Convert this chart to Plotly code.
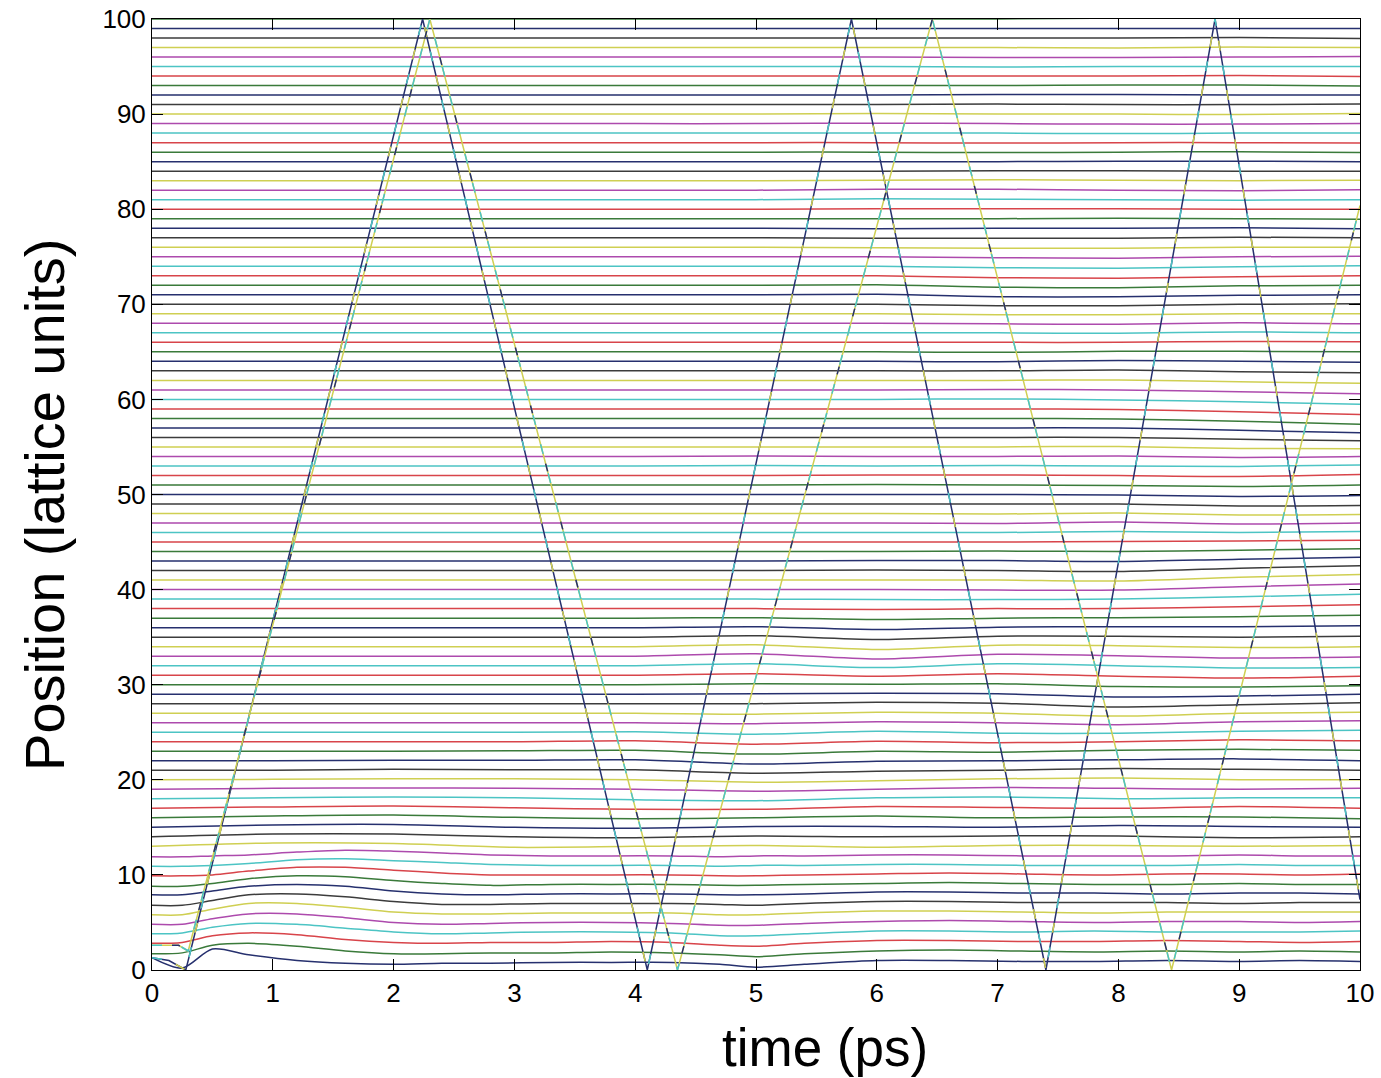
import plotly.graph_objects as go

# ---------------- data ----------------
# MATLAB-like colour order (as it appears in the picture)
line_colors = ["#26306e", "#3a7a3a", "#d8444a", "#4cc4c4", "#ad4aad", "#cfcf52", "#3c3c3c"]

# bottom atoms (1..12): absolute positions at fine knots
t_fine = [0, 0.25, 0.5, 0.8, 1.2, 1.6, 2.0, 2.4, 2.8, 3.3, 3.8, 4.3, 4.7, 5.0, 5.4, 6.0, 6.6, 7.2, 7.8, 8.4, 9.0, 9.5, 10]
pos_bottom = [
    [1.3, 0.2, 2.2, 1.6, 1.0, 0.7, 0.6, 0.7, 0.7, 0.8, 0.8, 0.8, 0.6, 0.3, 0.6, 1.0, 1.0, 0.9, 0.9, 1.0, 0.9, 1.0, 0.9],
    [1.7, 1.8, 2.6, 2.8, 2.5, 2.0, 1.7, 1.7, 1.8, 1.8, 1.9, 1.8, 1.6, 1.4, 1.7, 2.0, 2.1, 2.0, 1.9, 2.0, 1.9, 2.0, 1.9],
    [2.8, 2.9, 3.6, 3.9, 3.7, 3.2, 2.9, 2.8, 2.9, 2.9, 3.0, 2.9, 2.6, 2.5, 2.8, 3.1, 3.1, 3.0, 3.0, 3.1, 3.0, 2.9, 3.0],
    [3.8, 3.9, 4.5, 4.9, 4.8, 4.4, 4.0, 3.8, 3.9, 4.0, 4.0, 3.9, 3.6, 3.6, 3.8, 4.1, 4.1, 4.0, 4.1, 4.0, 4.0, 4.0, 4.1],
    [4.8, 4.8, 5.4, 5.9, 5.9, 5.5, 5.0, 4.8, 4.9, 5.0, 5.0, 4.9, 4.7, 4.7, 4.9, 5.1, 5.2, 5.1, 5.0, 5.1, 5.1, 5.0, 5.1],
    [5.8, 5.8, 6.4, 7.0, 7.0, 6.6, 6.1, 5.9, 5.9, 6.0, 6.0, 6.0, 5.8, 5.8, 6.0, 6.2, 6.2, 6.1, 6.0, 6.1, 6.1, 6.1, 6.1],
    [6.8, 6.8, 7.3, 7.9, 8.0, 7.7, 7.2, 6.9, 6.9, 7.0, 7.0, 7.0, 6.9, 6.8, 7.0, 7.2, 7.2, 7.1, 7.1, 7.1, 7.0, 7.1, 7.1],
    [7.9, 7.9, 8.3, 8.8, 9.0, 8.8, 8.3, 8.0, 7.9, 8.0, 8.0, 8.0, 7.9, 7.9, 8.0, 8.2, 8.2, 8.1, 8.1, 8.0, 8.1, 8.1, 8.0],
    [8.8, 8.8, 9.1, 9.6, 9.9, 9.8, 9.4, 9.1, 8.9, 9.0, 9.0, 9.0, 8.9, 8.9, 9.0, 9.1, 9.2, 9.1, 9.0, 9.0, 9.1, 9.0, 9.0],
    [9.9, 9.9, 10.0, 10.4, 10.8, 10.8, 10.5, 10.2, 10.0, 10.0, 10.0, 10.0, 9.9, 9.9, 10.0, 10.1, 10.2, 10.1, 10.0, 10.1, 10.1, 10.0, 10.1],
    [10.9, 10.9, 11.0, 11.2, 11.6, 11.7, 11.5, 11.3, 11.1, 11.0, 11.0, 11.0, 10.9, 11.0, 11.0, 11.1, 11.1, 11.0, 11.0, 11.0, 11.1, 11.0, 11.0],
    [11.9, 11.9, 12.0, 12.1, 12.4, 12.6, 12.5, 12.3, 12.1, 12.0, 12.0, 12.0, 11.9, 12.0, 12.0, 12.1, 12.1, 12.0, 12.0, 12.0, 12.1, 12.0, 12.0],
]

# upper atoms (13..100): rest position and deviation at t = 0..10 ps
t_coarse = [0, 1, 2, 3, 4, 5, 6, 7, 8, 9, 10]
rest_upper = list(range(13, 101))
dev_upper = [
    [0, .35, .3, -.1, 0, .1, -.1, .1, .1, 0, .1],
    [0, .3, .3, 0, -.1, .1, 0, .1, .1, -.1, 0],
    [0, .25, .3, 0, -.1, .1, .1, 0, .2, .1, 0],
    [0, .2, .3, .05, -.1, 0, .2, 0, .1, .1, -.1],
    [0, .15, .25, .05, -.1, -.1, .2, .1, 0, .2, 0],
    [0, .1, .2, .1, -.1, -.2, .1, .2, 0, .1, .1],
    [0, .1, .15, .1, 0, -.2, 0, .2, .1, 0, .1],
    [0, .05, .1, .1, 0, -.25, -.1, .1, .2, 0, 0],
    [0, 0, .1, .05, .05, -.3, -.1, 0, .2, .1, 0],
    [0, 0, .05, .05, .1, -.35, -.05, 0, .1, .2, 0],
    [0, 0, 0, .05, .1, -.3, 0, -.1, .1, .2, .1],
    [0, 0, 0, 0, .1, -.25, .05, -.1, 0, .2, .1],
    [0, 0, 0, 0, .05, -.2, .1, -.1, -.1, .1, .2],
    [0, 0, 0, 0, 0, -.1, .1, 0, -.2, .1, .2],
    [0, 0, 0, 0, 0, -.1, .1, 0, -.3, 0, .1],
    [0, 0, 0, 0, 0, 0, .15, .05, -.35, -.1, .1],
    [0, 0, 0, 0, 0, .05, .1, .05, -.3, -.2, 0],
    [0, 0, 0, 0, 0, .1, .05, .1, -.2, -.25, -.1],
    [0, 0, 0, 0, 0, .15, -.1, .15, -.1, -.3, -.1],
    [0, 0, 0, 0, 0, .2, -.2, .2, 0, -.25, -.2],
    [0, 0, 0, 0, 0, .25, -.3, .2, .05, -.2, -.1],
    [0, 0, 0, 0, 0, .2, -.3, .15, .1, -.1, 0],
    [0, 0, 0, 0, 0, .15, -.25, .1, .1, 0, .1],
    [0, 0, 0, 0, 0, .1, -.2, .05, .1, .1, .2],
    [0, 0, 0, 0, 0, .05, -.15, 0, .05, .15, .3],
    [0, 0, 0, 0, 0, 0, -.1, 0, 0, .2, .4],
    [0, 0, 0, 0, 0, 0, -.05, -.05, 0, .25, .5],
    [0, 0, 0, 0, 0, 0, 0, -.05, -.05, .3, .6],
    [0, 0, 0, 0, 0, 0, 0, 0, -.1, .3, .6],
    [0, 0, 0, 0, 0, 0, .05, 0, -.1, .25, .5],
    [0, 0, 0, 0, 0, 0, .05, .05, -.05, .2, .4],
    [0, 0, 0, 0, 0, 0, 0, .05, 0, .15, .3],
    [0, 0, 0, 0, 0, 0, 0, 0, .05, .1, .2],
    [0, 0, 0, 0, 0, 0, 0, 0, .1, 0, .1],
    [0, 0, 0, 0, 0, 0, 0, -.05, .1, -.1, 0],
    [0, 0, 0, 0, 0, 0, 0, -.05, .05, -.15, -.1],
    [0, 0, 0, 0, 0, 0, 0, 0, 0, -.2, -.15],
    [0, 0, 0, 0, 0, 0, 0, 0, -.05, -.2, -.1],
    [0, 0, 0, 0, 0, 0, .05, 0, -.05, -.15, 0],
    [0, 0, 0, 0, 0, 0, .05, .05, 0, -.1, .1],
    [0, 0, 0, 0, 0, .05, 0, .05, 0, -.05, .1],
    [0, 0, 0, 0, 0, .05, 0, 0, .05, -.1, 0],
    [0, 0, 0, 0, 0, 0, 0, 0, .05, -.15, -.2],
    [0, 0, 0, 0, 0, 0, 0, 0, 0, -.2, -.35],
    [0, 0, 0, 0, 0, 0, 0, 0, 0, -.25, -.5],
    [0, 0, 0, 0, 0, 0, 0, 0, -.05, -.3, -.6],
    [0, 0, 0, 0, 0, 0, 0, 0, -.05, -.3, -.6],
    [0, 0, 0, 0, 0, 0, 0, .05, -.05, -.25, -.5],
    [0, 0, 0, 0, 0, 0, 0, .05, 0, -.2, -.4],
    [0, 0, 0, 0, 0, 0, 0, 0, .05, -.15, -.3],
    [0, 0, 0, 0, 0, 0, 0, 0, .1, -.1, -.2],
    [0, 0, 0, 0, 0, 0, 0, -.05, .1, 0, -.1],
    [0, 0, 0, 0, 0, 0, 0, -.05, .05, .05, 0],
    [0, 0, 0, 0, 0, 0, 0, 0, 0, .1, .05],
    [0, 0, 0, 0, 0, 0, 0, 0, -.05, .1, 0],
    [0, 0, 0, 0, 0, 0, 0, -.05, -.1, .05, -.05],
    [0, 0, 0, 0, 0, 0, 0, -.1, -.1, 0, 0],
    [0, 0, 0, 0, 0, 0, 0, -.15, -.15, 0, .05],
    [0, 0, 0, 0, 0, 0, .05, -.2, -.2, -.05, 0],
    [0, 0, 0, 0, 0, 0, .05, -.2, -.25, -.05, 0],
    [0, 0, 0, 0, 0, 0, 0, -.2, -.25, -.1, 0],
    [0, 0, 0, 0, 0, 0, 0, -.15, -.2, -.05, .05],
    [0, 0, 0, 0, 0, 0, 0, -.1, -.15, 0, .05],
    [0, 0, 0, 0, 0, 0, -.05, -.1, -.1, 0, 0],
    [0, 0, 0, 0, 0, 0, -.05, -.05, -.05, .05, 0],
    [0, 0, 0, 0, 0, 0, -.05, 0, 0, .05, -.05],
    [0, 0, 0, 0, 0, 0, 0, 0, .05, 0, -.05],
    [0, 0, 0, 0, 0, 0, .05, .05, .05, 0, 0],
    [0, 0, 0, 0, 0, 0, .1, .05, 0, -.05, 0],
    [0, 0, 0, 0, 0, 0, .1, .1, 0, -.05, .05],
    [0, 0, 0, 0, 0, 0, .05, .1, .05, 0, .05],
    [0, 0, 0, 0, 0, 0, 0, .05, .05, 0, 0],
    [0, 0, 0, 0, 0, 0, 0, 0, .05, .05, 0],
    [0, 0, 0, 0, 0, 0, 0, -.05, 0, .05, -.05],
    [0, 0, 0, 0, 0, 0, 0, -.05, 0, 0, -.05],
    [0, 0, 0, 0, 0, 0, 0, 0, -.05, 0, 0],
    [0, 0, 0, 0, 0, 0, .05, 0, -.05, -.05, 0],
    [0, 0, 0, 0, 0, 0, .05, 0, 0, -.05, .05],
    [0, 0, 0, 0, 0, 0, 0, .05, 0, 0, .05],
    [0, 0, 0, 0, 0, 0, 0, .05, .05, 0, 0],
    [0, 0, 0, 0, 0, 0, 0, 0, .05, .05, -.05],
    [0, 0, 0, 0, 0, 0, 0, 0, 0, .05, -.05],
    [0, 0, 0, 0, 0, 0, 0, -.05, 0, 0, 0],
    [0, 0, 0, 0, 0, 0, 0, -.05, -.05, 0, .05],
    [0, 0, 0, 0, 0, 0, 0, 0, -.05, .05, 0],
    [0, 0, 0, 0, 0, 0, 0, 0, 0, .05, -.05],
    [0, 0, 0, 0, 0, 0, 0, 0, 0, 0, 0],
    [0, 0, 0, 0, 0, 0, 0, 0, .1, .1, .1],
]

# two pulses bouncing between the walls (vertices)
pulse_a_t = [0.0, 0.14, 0.28, 2.24, 4.10, 5.79, 7.40, 8.80, 10.0]
pulse_a_y = [1.3, 1.0, 0.0, 100, 0, 100, 0, 100, 7.4]
pulse_b_t = [0.0, 0.22, 0.30, 2.30, 4.35, 6.46, 8.44, 10.0]
pulse_b_y = [2.6, 2.6, 2.0, 100, 0, 100, 0, 80.4]

x_ticks = [0, 1, 2, 3, 4, 5, 6, 7, 8, 9, 10]
y_ticks = [0, 10, 20, 30, 40, 50, 60, 70, 80, 90, 100]
x_title = "time (ps)"
y_title = "Position (lattice units)"

# ---------------- figure ----------------
fig = go.Figure()
LW = 1.5

for k, ys in enumerate(pos_bottom):
    fig.add_trace(go.Scatter(x=t_fine, y=ys, mode="lines",
                             line=dict(color=line_colors[k % 7], width=LW, shape="spline", smoothing=0.8),
                             hoverinfo="skip", showlegend=False))

for k, (rest, dev) in enumerate(zip(rest_upper, dev_upper)):
    ys = [rest + d for d in dev]
    fig.add_trace(go.Scatter(x=t_coarse, y=ys, mode="lines",
                             line=dict(color=line_colors[(rest - 1) % 7], width=LW, shape="spline", smoothing=0.8),
                             hoverinfo="skip", showlegend=False))

# pulse A: dark with lighter segments
fig.add_trace(go.Scatter(x=pulse_a_t, y=pulse_a_y, mode="lines",
                         line=dict(color=line_colors[0], width=LW), hoverinfo="skip", showlegend=False))
fig.add_trace(go.Scatter(x=pulse_a_t, y=pulse_a_y, mode="lines",
                         line=dict(color=line_colors[3], width=LW, dash="10px,40px"), hoverinfo="skip", showlegend=False))
fig.add_trace(go.Scatter(x=pulse_a_t, y=pulse_a_y, mode="lines",
                         line=dict(color=line_colors[5], width=LW, dash="0px,25px,10px,15px"), hoverinfo="skip", showlegend=False))
# pulse B: light with darker segments
fig.add_trace(go.Scatter(x=pulse_b_t, y=pulse_b_y, mode="lines",
                         line=dict(color=line_colors[5], width=LW), hoverinfo="skip", showlegend=False))
fig.add_trace(go.Scatter(x=pulse_b_t, y=pulse_b_y, mode="lines",
                         line=dict(color=line_colors[3], width=LW, dash="10px,20px"), hoverinfo="skip", showlegend=False))
fig.add_trace(go.Scatter(x=pulse_b_t, y=pulse_b_y, mode="lines",
                         line=dict(color=line_colors[0], width=LW, dash="0px,20px,8px,32px"), hoverinfo="skip", showlegend=False))

font_family = "Liberation Sans, Arial, sans-serif"
axis_common = dict(showgrid=False, zeroline=False, showline=True, linecolor="black", linewidth=1,
                   mirror="ticks", ticks="inside", ticklen=11, tickcolor="black", tickwidth=1,
                   automargin=False,
                   tickfont=dict(family=font_family, size=26, color="black"))

fig.update_layout(
    width=1381, height=1078,
    margin=dict(l=152, r=21, t=19, b=108, autoexpand=False),
    paper_bgcolor="white", plot_bgcolor="white",
    xaxis=dict(range=[0, 10], tickmode="array", tickvals=x_ticks, ticktext=[str(v) for v in x_ticks], **axis_common),
    yaxis=dict(range=[0, 100], tickmode="array", tickvals=y_ticks, ticktext=[str(v) for v in y_ticks], **axis_common),
    annotations=[
        dict(text=x_title, xref="paper", yref="paper", x=0.557, y=-0.082, xanchor="center", yanchor="middle",
             showarrow=False, font=dict(family=font_family, size=53, color="black")),
        dict(text=y_title, xref="paper", yref="paper", x=-0.0886, y=0.489, xanchor="center", yanchor="middle",
             textangle=-90, showarrow=False, font=dict(family=font_family, size=56, color="black")),
    ],
)

fig.write_html("out.html")
